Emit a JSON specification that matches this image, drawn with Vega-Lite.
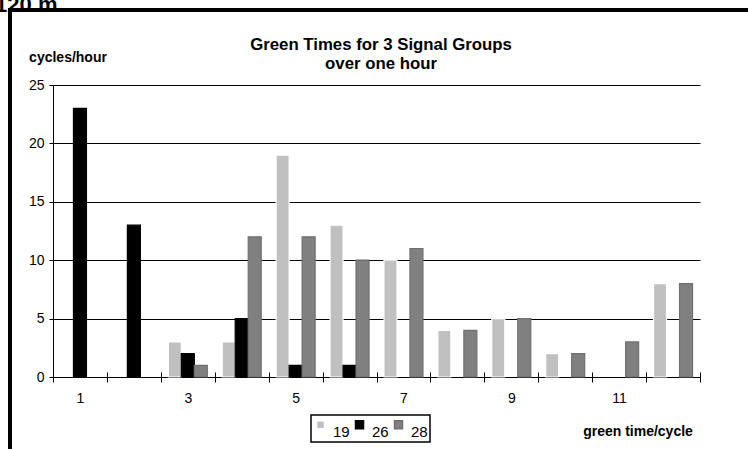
{
  "$schema": "https://vega.github.io/schema/vega-lite/v6.json",
  "autosize": {"type": "none"},
  "padding": {"left": 10, "top": 10, "right": -4, "bottom": -4},
  "width": 742,
  "height": 443,
  "background": "white",
  "title": {
    "text": ["Green Times for 3 Signal Groups", "over one hour"],
    "anchor": "middle",
    "frame": "group",
    "offset": -80,
    "fontSize": 16.8,
    "fontWeight": "bold",
    "color": "black",
    "lineHeight": 19
  },
  "data": {
    "values": [
      {"t": 1, "group": "26", "cycles": 23},
      {"t": 2, "group": "26", "cycles": 13},
      {"t": 3, "group": "19", "cycles": 3},
      {"t": 3, "group": "26", "cycles": 2},
      {"t": 3, "group": "28", "cycles": 1},
      {"t": 4, "group": "19", "cycles": 3},
      {"t": 4, "group": "26", "cycles": 5},
      {"t": 4, "group": "28", "cycles": 12},
      {"t": 5, "group": "19", "cycles": 19},
      {"t": 5, "group": "26", "cycles": 1},
      {"t": 5, "group": "28", "cycles": 12},
      {"t": 6, "group": "19", "cycles": 13},
      {"t": 6, "group": "26", "cycles": 1},
      {"t": 6, "group": "28", "cycles": 10},
      {"t": 7, "group": "19", "cycles": 10},
      {"t": 7, "group": "28", "cycles": 11},
      {"t": 8, "group": "19", "cycles": 4},
      {"t": 8, "group": "28", "cycles": 4},
      {"t": 9, "group": "19", "cycles": 5},
      {"t": 9, "group": "28", "cycles": 5},
      {"t": 10, "group": "19", "cycles": 2},
      {"t": 10, "group": "28", "cycles": 2},
      {"t": 11, "group": "28", "cycles": 3},
      {"t": 12, "group": "19", "cycles": 8},
      {"t": 12, "group": "28", "cycles": 8}
    ]
  },
  "layer": [
    {
      "mark": {"type": "bar", "strokeWidth": 1.2},
      "encoding": {
        "x": {
          "field": "t",
          "type": "ordinal",
          "scale": {"domain": [1,2,3,4,5,6,7,8,9,10,11,12], "range": [43, 690], "paddingInner": 0, "paddingOuter": 0},
          "axis": {
            "orient": "bottom",
            "offset": -76,
            "labelAngle": 0,
            "tickBand": "extent",
            "tickSize": 5,
            "tickColor": "black",
            "domainColor": "black",
            "labelExpr": "datum.value % 2 == 1 ? datum.label : ''",
            "labelPadding": 9,
            "labelFontSize": 14,
            "labelColor": "black",
            "title": "green time/cycle",
            "titleX": 627.5,
            "titleY": 54,
            "titleAlign": "center",
            "titleBaseline": "middle",
            "titleFontSize": 14,
            "titleFontWeight": "bold",
            "titleColor": "black"
          }
        },
        "xOffset": {"field": "group", "type": "nominal", "scale": {"paddingInner": 0, "paddingOuter": 0.574}},
        "y": {
          "field": "cycles",
          "type": "quantitative",
          "scale": {"domain": [0, 25], "range": [367, 75], "nice": false},
          "axis": {
            "orient": "left",
            "offset": -43,
            "values": [0, 5, 10, 15, 20, 25],
            "grid": true,
            "gridColor": "black",
            "gridWidth": 1,
            "gridOpacity": 1,
            "tickSize": 4,
            "tickColor": "black",
            "domainColor": "black",
            "labelPadding": 5,
            "labelFontSize": 14,
            "labelColor": "black",
            "title": "cycles/hour",
            "titleAngle": 0,
            "titleX": 14.5,
            "titleY": 47.5,
            "titleAlign": "center",
            "titleBaseline": "middle",
            "titleFontSize": 14,
            "titleFontWeight": "bold",
            "titleColor": "black"
          }
        },
        "color": {
          "field": "group",
          "type": "nominal",
          "scale": {"domain": ["19", "26", "28"], "range": ["#c0c0c0", "#000000", "#808080"]},
          "legend": {
            "title": null,
            "orient": "none",
            "legendX": 301,
            "legendY": 405,
            "direction": "horizontal",
            "columns": 3,
            "symbolType": "square",
            "symbolSize": 64,
            "symbolStrokeWidth": 1.5,
            "labelFontSize": 15,
            "labelColor": "black",
            "labelOffset": 5,
            "labelBaseline": "top",
            "columnPadding": 2,
            "padding": 2,
            "strokeColor": "black"
          }
        },
        "stroke": {
          "field": "group",
          "type": "nominal",
          "scale": {"domain": ["19", "26", "28"], "range": ["#ffffff", "#000000", "#707070"]},
          "legend": null
        }
      }
    },
    {
      "mark": {"type": "rule", "opacity": 0},
      "encoding": {
        "x": {
          "datum": 1,
          "type": "ordinal",
          "axis": {
            "orient": "bottom",
            "offset": -76,
            "tickBand": "extent",
            "tickSize": -5,
            "tickColor": "black",
            "domain": false,
            "labels": false,
            "title": null,
            "grid": false
          }
        },
        "y": {
          "datum": 0,
          "type": "quantitative",
          "axis": {
            "orient": "left",
            "offset": 0,
            "grid": false,
            "ticks": false,
            "labels": false,
            "domain": false,
            "title": "120 m",
            "titleAngle": 0,
            "titleX": 47,
            "titleY": 1,
            "titleAlign": "right",
            "titleBaseline": "alphabetic",
            "titleFontSize": 22,
            "titleFontWeight": "bold",
            "titleColor": "black"
          }
        }
      }
    }
  ],
  "resolve": {"axis": {"x": "independent", "y": "independent"}},
  "config": {
    "font": "Liberation Sans",
    "view": {"stroke": "black", "strokeWidth": 4},
    "legend": {"strokeWidth": 1.5},
    "axis": {"domainWidth": 1, "tickWidth": 1}
  }
}
